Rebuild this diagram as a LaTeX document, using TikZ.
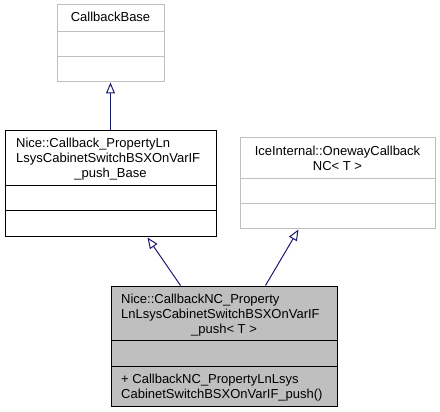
\documentclass[tikz,border=0pt]{standalone}
\usepackage{fontspec}
\setmainfont{Liberation Sans}
\usetikzlibrary{arrows.meta,calc}
\definecolor{edgeblue}{HTML}{191970}
\definecolor{boxgray}{HTML}{BFBFBF}
\definecolor{linegray}{HTML}{BFBFBF}
\begin{document}
\begin{tikzpicture}[x=1pt,y=-1pt,
  box/.style={draw, line width=1pt, inner sep=0pt, rectangle},
  graybox/.style={box, draw=linegray},
  blackbox/.style={box, draw=black},
  txt/.style={inner sep=0pt, font=\fontsize{13}{15}\selectfont},
  inh/.style={draw=edgeblue, line width=1pt, -{Triangle[open, length=11pt, width=9pt]}}
]
\useasboundingbox (0,0) rectangle (440,412);
% boxes
\node[graybox, minimum width=107pt, minimum height=77pt] (cb) at (110.5,43.5) {};
\node[blackbox, minimum width=211pt, minimum height=106pt] (base) at (110.5,184) {};
\node[graybox, minimum width=195pt, minimum height=91pt] (ow) at (337.5,183.5) {};
\node[blackbox, fill=boxgray, minimum width=226pt, minimum height=120pt] (bot) at (224,346) {};
% separators
\draw[linegray, line width=1pt] (cb.west |- 0,31.5) -- (cb.east |- 0,31.5);
\draw[linegray, line width=1pt] (cb.west |- 0,57) -- (cb.east |- 0,57);
\draw[line width=1pt] (base.west |- 0,186) -- (base.east |- 0,186);
\draw[line width=1pt] (base.west |- 0,211) -- (base.east |- 0,211);
\draw[linegray, line width=1pt] (ow.west |- 0,179) -- (ow.east |- 0,179);
\draw[linegray, line width=1pt] (ow.west |- 0,204) -- (ow.east |- 0,204);
\draw[line width=1pt] (bot.west |- 0,340) -- (bot.east |- 0,340);
\draw[line width=1pt] (bot.west |- 0,366) -- (bot.east |- 0,366);
% texts
\node[txt, anchor=base] (t1) at (110.5,22) {CallbackBase};
\node[txt, anchor=base west] (t2) at (16,148) {Nice::Callback\_PropertyLn};
\node[txt, anchor=base west] (t3) at (16,163) {LsysCabinetSwitchBSXOnVarIF};
\node[txt, anchor=base] (t4) at (110.5,178) {\_push\_Base};
\node[txt, anchor=base] (t5) at (337.5,156) {IceInternal::OnewayCallback};
\node[txt, anchor=base] (t6) at (337.5,171) {NC< T >};
\node[txt, anchor=base west] (t7) at (121,303) {Nice::CallbackNC\_Property};
\node[txt, anchor=base west] (t8) at (121,318) {LnLsysCabinetSwitchBSXOnVarIF};
\node[txt, anchor=base] (t9) at (224,333) {\_push< T >};
\node[txt, anchor=base west] (t10) at (121,383) {+ CallbackNC\_PropertyLnLsys};
\node[txt, anchor=base west] (t11) at (121,398) {CabinetSwitchBSXOnVarIF\_push()};
% connectors
\draw[inh] (base.north) -- (cb.south);
\draw[inh] ($(bot.north west)+(70,0)$) -- ($(base.south west)+(143,0)$);
\draw[inh] ($(bot.north west)+(155,0)$) -- ($(ow.south west)+(59,0)$);
\end{tikzpicture}
\end{document}
